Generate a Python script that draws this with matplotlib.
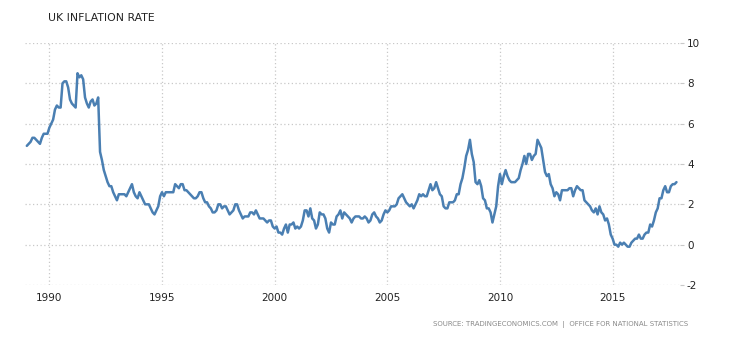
import numpy as np
import matplotlib
matplotlib.use("Agg")
import matplotlib.pyplot as plt

plt.rcParams["axes.unicode_minus"] = False

# Monthly UK CPI inflation rate (%), January 1989 onwards
cpi_1989 = [4.9, 5.0, 5.1, 5.3, 5.3, 5.2, 5.1, 5.0, 5.3, 5.5, 5.5, 5.5]
cpi_1990 = [5.8, 6.0, 6.2, 6.7, 6.9, 6.8, 6.8, 8.0, 8.1, 8.1, 7.8, 7.2]
cpi_1991 = [7.0, 6.9, 6.8, 8.5, 8.3, 8.4, 8.2, 7.3, 7.0, 6.8, 7.1, 7.2]
cpi_1992 = [6.9, 7.0, 7.3, 4.6, 4.2, 3.7, 3.4, 3.1, 2.9, 2.9, 2.6, 2.4]
cpi_1993 = [2.2, 2.5, 2.5, 2.5, 2.5, 2.4, 2.6, 2.8, 3.0, 2.6, 2.4, 2.3]
cpi_1994 = [2.6, 2.4, 2.2, 2.0, 2.0, 2.0, 1.8, 1.6, 1.5, 1.7, 1.9, 2.4]
cpi_1995 = [2.6, 2.4, 2.6, 2.6, 2.6, 2.6, 2.6, 3.0, 2.9, 2.8, 3.0, 3.0]
cpi_1996 = [2.7, 2.7, 2.6, 2.5, 2.4, 2.3, 2.3, 2.4, 2.6, 2.6, 2.3, 2.1]
cpi_1997 = [2.1, 1.9, 1.8, 1.6, 1.6, 1.7, 2.0, 2.0, 1.8, 1.9, 1.9, 1.7]
cpi_1998 = [1.5, 1.6, 1.7, 2.0, 2.0, 1.7, 1.5, 1.3, 1.4, 1.4, 1.4, 1.6]
cpi_1999 = [1.6, 1.5, 1.7, 1.5, 1.3, 1.3, 1.3, 1.2, 1.1, 1.2, 1.2, 0.9]
cpi_2000 = [0.8, 0.9, 0.6, 0.6, 0.5, 0.8, 1.0, 0.6, 1.0, 1.0, 1.1, 0.8]
cpi_2001 = [0.9, 0.8, 0.9, 1.2, 1.7, 1.7, 1.4, 1.8, 1.3, 1.2, 0.8, 1.0]
cpi_2002 = [1.6, 1.5, 1.5, 1.3, 0.8, 0.6, 1.1, 1.0, 1.0, 1.4, 1.5, 1.7]
cpi_2003 = [1.3, 1.6, 1.5, 1.4, 1.3, 1.1, 1.3, 1.4, 1.4, 1.4, 1.3, 1.3]
cpi_2004 = [1.4, 1.3, 1.1, 1.2, 1.5, 1.6, 1.4, 1.3, 1.1, 1.2, 1.5, 1.7]
cpi_2005 = [1.6, 1.7, 1.9, 1.9, 1.9, 2.0, 2.3, 2.4, 2.5, 2.3, 2.1, 2.0]
cpi_2006 = [1.9, 2.0, 1.8, 2.0, 2.2, 2.5, 2.4, 2.5, 2.4, 2.4, 2.7, 3.0]
cpi_2007 = [2.7, 2.8, 3.1, 2.8, 2.5, 2.4, 1.9, 1.8, 1.8, 2.1, 2.1, 2.1]
cpi_2008 = [2.2, 2.5, 2.5, 3.0, 3.3, 3.8, 4.4, 4.7, 5.2, 4.5, 4.1, 3.1]
cpi_2009 = [3.0, 3.2, 2.9, 2.3, 2.2, 1.8, 1.8, 1.6, 1.1, 1.5, 1.9, 2.9]
cpi_2010 = [3.5, 3.0, 3.4, 3.7, 3.4, 3.2, 3.1, 3.1, 3.1, 3.2, 3.3, 3.7]
cpi_2011 = [4.0, 4.4, 4.0, 4.5, 4.5, 4.2, 4.4, 4.5, 5.2, 5.0, 4.8, 4.2]
cpi_2012 = [3.6, 3.4, 3.5, 3.0, 2.8, 2.4, 2.6, 2.5, 2.2, 2.7, 2.7, 2.7]
cpi_2013 = [2.7, 2.8, 2.8, 2.4, 2.7, 2.9, 2.8, 2.7, 2.7, 2.2, 2.1, 2.0]
cpi_2014 = [1.9, 1.7, 1.6, 1.8, 1.5, 1.9, 1.6, 1.5, 1.2, 1.3, 1.0, 0.5]
cpi_2015 = [0.3, 0.0, 0.0, -0.1, 0.1, 0.0, 0.1, 0.0, -0.1, -0.1, 0.1, 0.2]
cpi_2016 = [0.3, 0.3, 0.5, 0.3, 0.3, 0.5, 0.6, 0.6, 1.0, 0.9, 1.2, 1.6]
cpi_2017 = [1.8, 2.3, 2.3, 2.7, 2.9, 2.6, 2.6, 2.9, 3.0, 3.0, 3.1]

start_year = 1989
x_ticks = [1990, 1995, 2000, 2005, 2010, 2015]
y_ticks = [-2, 0, 2, 4, 6, 8, 10]

title = "UK INFLATION RATE"
source = "SOURCE: TRADINGECONOMICS.COM  |  OFFICE FOR NATIONAL STATISTICS"

values = np.concatenate([
    cpi_1989, cpi_1990, cpi_1991, cpi_1992, cpi_1993, cpi_1994, cpi_1995,
    cpi_1996, cpi_1997, cpi_1998, cpi_1999, cpi_2000, cpi_2001, cpi_2002,
    cpi_2003, cpi_2004, cpi_2005, cpi_2006, cpi_2007, cpi_2008, cpi_2009,
    cpi_2010, cpi_2011, cpi_2012, cpi_2013, cpi_2014, cpi_2015, cpi_2016,
    cpi_2017,
])
dates = start_year + np.arange(len(values)) / 12.0

fig = plt.figure(figsize=(7.38, 3.43), dpi=100)
ax = fig.add_axes([0.0339, 0.1691, 0.8875, 0.7055])

ax.plot(dates, values, color="#4a7fb2", linewidth=1.8, solid_joinstyle="round",
        solid_capstyle="round", zorder=3)

ax.set_xlim(1988.92, 2017.99)
ax.set_ylim(-2, 10)
ax.set_xticks(x_ticks)
ax.set_yticks(y_ticks)

for s in ax.spines.values():
    s.set_visible(False)

ax.grid(True, color="#c8c8c8", linestyle=(0, (1, 2)), linewidth=0.9, zorder=0)

ax.yaxis.tick_right()
ax.tick_params(axis="y", length=3, color="#c8c8c8", pad=2, labelsize=7.5,
               labelcolor="#222222")
ax.tick_params(axis="x", length=0, pad=6, labelsize=7.5, labelcolor="#222222")

fig.text(47.5 / 738, 1 - 18 / 343, title, fontsize=7.8, color="#222222",
         ha="left", va="center", family="DejaVu Sans")
fig.text(688 / 738, 1 - 325 / 343, source, fontsize=5.0, color="#8a8a8a",
         ha="right", va="center", family="DejaVu Sans")

fig.savefig("out.png", dpi=100)
